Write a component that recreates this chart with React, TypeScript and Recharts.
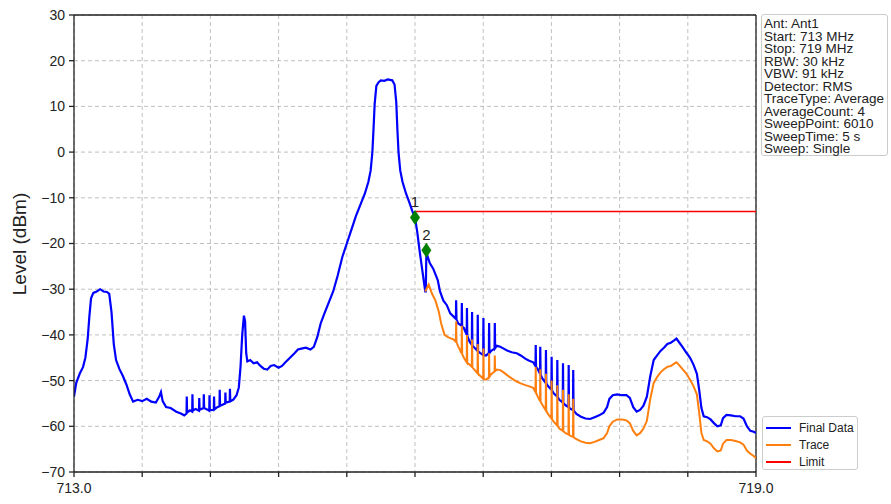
import React from 'react'
import {
  ComposedChart,
  XAxis,
  YAxis,
  CartesianGrid,
  Line,
  Scatter,
  ReferenceLine,
} from 'recharts'

// [frequency MHz, level dBm]
const finalData: [number, number][] = [
  [713.0, -53.5], [713.02, -50.5], [713.05, -48.5], [713.08, -47], [713.1, -45],
  [713.12, -41], [713.135, -36], [713.15, -32], [713.17, -30.8], [713.2, -30.5],
  [713.23, -30], [713.26, -30.5], [713.29, -30.6], [713.31, -31], [713.33, -35],
  [713.35, -42], [713.37, -45.5], [713.4, -47.5], [713.43, -49], [713.46, -50.8],
  [713.49, -53], [713.52, -54.6], [713.56, -54.2], [713.6, -54.5], [713.64, -54],
  [713.68, -54.6], [713.72, -54.8], [713.75, -53.5], [713.765, -52.5], [713.78, -54.5],
  [713.81, -55.8], [713.85, -56], [713.9, -56.8], [713.94, -57.2], [713.97, -57.6],
  [713.99, -57.2], [713.992, -53.5], [713.995, -57], [714.02, -56.5],
  [714.04, -56.8], [714.042, -53], [714.045, -56.6], [714.07, -56.2],
  [714.1, -56.6], [714.102, -53.8], [714.105, -56.4],
  [714.14, -56], [714.142, -53], [714.145, -56], [714.17, -56.3],
  [714.19, -56.6], [714.192, -53.2], [714.195, -56.5],
  [714.23, -56.4], [714.232, -53.5], [714.235, -56.3], [714.26, -55.8],
  [714.28, -55.6], [714.282, -52], [714.285, -55.5],
  [714.33, -55], [714.332, -52.6], [714.335, -54.8],
  [714.37, -54.6], [714.372, -51.8], [714.375, -54.5],
  [714.4, -54.2], [714.43, -53.2], [714.45, -51.5], [714.465, -47], [714.48, -40],
  [714.495, -35.8], [714.505, -37], [714.515, -44], [714.525, -45.8], [714.55, -45.5],
  [714.58, -46.2], [714.61, -46], [714.64, -46.8], [714.67, -47.4], [714.7, -47.6],
  [714.73, -46.8], [714.76, -46.6], [714.8, -47.2], [714.83, -46.8], [714.86, -46],
  [714.9, -45], [714.94, -44], [714.97, -43.2], [715.0, -43], [715.04, -42.8],
  [715.08, -43.2], [715.11, -42.6], [715.14, -40.5], [715.17, -37.5], [715.2, -35.5],
  [715.24, -33], [715.28, -30.5], [715.32, -27], [715.36, -23], [715.4, -20],
  [715.44, -17], [715.48, -14], [715.52, -11.5], [715.56, -9], [715.59, -6.5],
  [715.61, -4], [715.625, 0], [715.635, 5], [715.645, 10.5], [715.66, 14.5],
  [715.68, 15.3], [715.7, 15.7], [715.73, 15.6], [715.76, 15.9], [715.78, 15.8],
  [715.8, 15.7], [715.82, 14.8], [715.835, 11], [715.845, 5], [715.855, 0],
  [715.87, -4], [715.89, -6.5], [715.92, -9], [715.95, -11], [715.975, -12.8],
  [716.0, -14.3], [716.02, -17.5], [716.04, -21.5], [716.065, -26], [716.09, -30.5],
  [716.095, -30.5], [716.1, -22], [716.13, -24.3], [716.16, -25.5], [716.2, -28],
  [716.22, -30.5], [716.25, -32.5], [716.28, -33.5], [716.31, -35.3], [716.34, -36],
  [716.36, -36.5], [716.362, -32.4], [716.365, -36.6], [716.38, -37.5],
  [716.41, -38], [716.412, -33], [716.415, -38.2], [716.43, -38.5],
  [716.455, -40], [716.457, -34.1], [716.46, -40.2], [716.48, -41.5],
  [716.5, -42.2], [716.502, -35], [716.505, -42.3], [716.53, -43],
  [716.55, -43.5], [716.552, -35.6], [716.555, -43.6], [716.575, -44],
  [716.6, -44.4], [716.602, -36.3], [716.605, -44.4], [716.625, -44.5],
  [716.65, -44], [716.652, -37.4], [716.655, -44], [716.67, -43.5],
  [716.7, -43], [716.702, -37.4], [716.705, -42.9], [716.72, -42.4],
  [716.75, -42.6], [716.78, -43], [716.81, -43.4], [716.85, -43.8], [716.895, -44],
  [716.93, -44.5], [716.97, -45.2], [717.0, -45.6], [717.04, -46],
  [717.06, -46.8], [717.062, -42.2], [717.065, -47], [717.08, -47.5],
  [717.1, -48.5], [717.102, -42.6], [717.105, -48.7], [717.12, -49.5],
  [717.15, -50.5], [717.152, -43.3], [717.155, -50.6], [717.17, -51.2],
  [717.2, -52], [717.202, -44.8], [717.205, -52.1], [717.22, -52.8],
  [717.25, -53.5], [717.252, -45.5], [717.255, -53.6], [717.27, -54.2],
  [717.3, -54.8], [717.302, -46.2], [717.305, -54.9], [717.325, -55.4],
  [717.35, -55.8], [717.352, -46.6], [717.355, -55.9], [717.37, -56.2],
  [717.39, -56.4], [717.392, -47.7], [717.395, -56.5],
  [717.42, -57.3], [717.46, -57.9], [717.5, -58.3], [717.54, -58.4], [717.58, -58],
  [717.62, -57.6], [717.66, -57], [717.69, -55.8], [717.71, -54], [717.74, -53.2],
  [717.78, -53], [717.82, -53.2], [717.86, -53.2], [717.89, -53.8], [717.92, -55.8],
  [717.95, -56.8], [717.98, -56.4], [718.01, -55.5], [718.04, -53.5], [718.07, -49],
  [718.1, -45.5], [718.13, -44.5], [718.16, -43.5], [718.19, -42.8], [718.22, -42],
  [718.25, -41.7], [718.28, -41.2], [718.3, -40.8], [718.32, -41.5], [718.35, -42.5],
  [718.385, -43.8], [718.42, -45], [718.45, -46.5], [718.48, -48.5], [718.5, -52],
  [718.52, -56], [718.54, -57.8], [718.57, -58], [718.6, -58.5], [718.63, -59.3],
  [718.66, -60], [718.69, -59.8], [718.71, -58.2], [718.74, -57.5], [718.78, -57.6],
  [718.82, -57.8], [718.86, -57.8], [718.89, -58.3], [718.92, -60], [718.95, -61],
  [718.98, -61.2], [719.0, -61.5],
]

const traceData: [number, number][] = [
  [716.09, -30.5], [716.12, -29], [716.15, -31], [716.18, -32.5], [716.21, -35],
  [716.23, -37.5], [716.26, -40], [716.29, -40.5], [716.32, -40.8], [716.34, -41],
  [716.36, -41.5], [716.362, -37], [716.365, -41.6], [716.38, -42.5],
  [716.41, -44], [716.412, -38], [716.415, -44.2], [716.43, -45],
  [716.455, -46], [716.457, -40], [716.46, -46.1], [716.48, -46.5],
  [716.5, -47], [716.502, -41], [716.505, -47.1], [716.53, -47.8],
  [716.55, -48.4], [716.552, -42], [716.555, -48.5], [716.575, -49],
  [716.6, -49.6], [716.602, -43], [716.605, -49.6], [716.625, -49.8],
  [716.65, -49.3], [716.652, -44], [716.655, -49.2], [716.67, -48.6],
  [716.7, -48], [716.702, -44.5], [716.705, -47.9], [716.72, -47.6],
  [716.75, -47.7], [716.78, -48.2], [716.81, -48.8], [716.85, -49.5], [716.895, -50.2],
  [716.93, -50.6], [716.97, -51], [717.0, -51.2], [717.04, -51.6],
  [717.06, -52.5], [717.062, -47], [717.065, -52.7], [717.08, -53.5],
  [717.1, -54.5], [717.102, -47.5], [717.105, -54.6], [717.12, -55.3],
  [717.15, -56.5], [717.152, -48.5], [717.155, -56.6], [717.17, -57.3],
  [717.2, -58.3], [717.202, -50], [717.205, -58.4], [717.22, -59],
  [717.25, -59.8], [717.252, -51], [717.255, -59.9], [717.27, -60.5],
  [717.3, -61], [717.302, -52], [717.305, -61.1], [717.325, -61.5],
  [717.35, -61.8], [717.352, -53], [717.355, -61.9], [717.37, -62.1],
  [717.39, -62.3], [717.392, -54], [717.395, -62.4],
  [717.42, -62.8], [717.46, -63.3], [717.5, -63.6], [717.54, -63.7], [717.58, -63.4],
  [717.62, -63], [717.66, -62.6], [717.69, -61.5], [717.71, -60], [717.74, -59],
  [717.78, -58.5], [717.82, -58.5], [717.86, -58.7], [717.89, -59.3], [717.92, -61],
  [717.95, -62], [717.98, -61.5], [718.01, -60.5], [718.04, -58.8], [718.07, -54],
  [718.1, -50.5], [718.13, -49.2], [718.16, -48.2], [718.19, -47.5], [718.22, -47],
  [718.25, -46.8], [718.28, -46.3], [718.3, -46], [718.32, -46.5], [718.35, -47.4],
  [718.385, -48.4], [718.42, -49.8], [718.45, -51.2], [718.48, -53], [718.5, -57],
  [718.52, -61.5], [718.54, -63], [718.57, -63.3], [718.6, -63.8], [718.63, -64.8],
  [718.66, -65.5], [718.69, -65.3], [718.71, -63.8], [718.74, -63], [718.78, -63],
  [718.82, -63.2], [718.86, -63.5], [718.89, -64], [718.92, -65.3], [718.95, -66],
  [718.98, -66.5], [719.0, -67],
]

const limitData: [number, number][] = [
  [716.0, -13],
  [719.0, -13],
]

const markers = [
  { id: '1', f: 716.0, v: -14.3 },
  { id: '2', f: 716.1, v: -21.5 },
]

const xTicks = [713, 713.6, 714.2, 714.8, 715.4, 716, 716.6, 717.2, 717.8, 718.4, 719]
const yTicks = [-70, -60, -50, -40, -30, -20, -10, 0, 10, 20, 30]

const infoLines = [
  'Ant: Ant1',
  'Start: 713 MHz',
  'Stop: 719 MHz',
  'RBW: 30 kHz',
  'VBW: 91 kHz',
  'Detector: RMS',
  'TraceType: Average',
  'AverageCount: 4',
  'SweepPoint: 6010',
  'SweepTime: 5 s',
  'Sweep: Single',
]

const legendItems = [
  { name: 'Final Data', color: '#0000ff' },
  { name: 'Trace', color: '#ff7f0e' },
  { name: 'Limit', color: '#ff0000' },
]

const toRows = (arr: [number, number][]) => arr.map(([f, v]) => ({ f, v }))

const FONT = '"Liberation Sans", Arial, sans-serif'
const AXIS = '#222'

function MarkerShape(props: any) {
  const { cx, cy, payload } = props
  if (cx == null || cy == null) return null
  return (
    <g>
      <polygon
        points={`${cx},${cy - 7.5} ${cx + 5},${cy} ${cx},${cy + 7.5} ${cx - 5},${cy}`}
        fill="#008000"
      />
      <text
        x={cx}
        y={cy - 10}
        textAnchor="middle"
        fontSize={15}
        fontFamily={FONT}
        fill={AXIS}
      >
        {payload.id}
      </text>
    </g>
  )
}

export default function App() {
  return (
    <div style={{ position: 'absolute', left: 0, top: 0, width: 891, height: 504, background: '#fff' }}>
      <ComposedChart
        width={891}
        height={504}
        margin={{ top: 15, right: 135, bottom: 0, left: 14 }}
      >
        <CartesianGrid stroke="#b0b0b0" strokeDasharray="4 3" strokeWidth={0.8} />
        <XAxis
          type="number"
          dataKey="f"
          domain={[713, 719]}
          ticks={xTicks}
          allowDataOverflow
          height={32}
          tickSize={5}
          tickMargin={6}
          stroke={AXIS}
          strokeWidth={1.3}
          tick={{ fontSize: 14, fontFamily: FONT, fill: AXIS }}
          tickFormatter={(v: number) => (v === 713 || v === 719 ? v.toFixed(1) : '')}
          interval={0}
        />
        <YAxis
          type="number"
          dataKey="v"
          domain={[-70, 30]}
          ticks={yTicks}
          allowDataOverflow
          width={60}
          tickSize={5}
          tickMargin={4}
          stroke={AXIS}
          strokeWidth={1.3}
          tick={{ fontSize: 14, fontFamily: FONT, fill: AXIS }}
          tickFormatter={(v: number) => String(v).replace('-', '\u2212')}
          interval={0}
        />
        <ReferenceLine y={30} stroke={AXIS} strokeWidth={1.3} />
        <ReferenceLine x={719} stroke={AXIS} strokeWidth={1.3} />
        <Line
          data={toRows(finalData)}
          dataKey="v"
          name="Final Data"
          type="linear"
          stroke="#0000ff"
          strokeWidth={2.2}
          dot={false}
          isAnimationActive={false}
        />
        <Line
          data={toRows(traceData)}
          dataKey="v"
          name="Trace"
          type="linear"
          stroke="#ff7f0e"
          strokeWidth={2}
          dot={false}
          isAnimationActive={false}
        />
        <Line
          data={toRows(limitData)}
          dataKey="v"
          name="Limit"
          type="linear"
          stroke="#ff0000"
          strokeWidth={1.3}
          dot={false}
          isAnimationActive={false}
        />
        <Scatter
          data={markers}
          dataKey="v"
          shape={MarkerShape}
          isAnimationActive={false}
        />
      </ComposedChart>

      <div
        style={{
          position: 'absolute',
          left: 20,
          top: 244,
          transform: 'translate(-50%, -50%) rotate(-90deg)',
          fontFamily: FONT,
          fontSize: 19,
          color: AXIS,
          whiteSpace: 'nowrap',
        }}
      >
        Level (dBm)
      </div>

      <div
        style={{
          position: 'absolute',
          left: 761,
          top: 14,
          width: 127,
          height: 142,
          border: '1px solid #ccc',
          borderRadius: 3,
          padding: '3px 0 0 2px',
          boxSizing: 'border-box',
          fontFamily: FONT,
          fontSize: 13.5,
          lineHeight: '12.5px',
          color: AXIS,
          whiteSpace: 'nowrap',
        }}
      >
        {infoLines.map((l) => (
          <div key={l}>{l}</div>
        ))}
      </div>

      <div
        style={{
          position: 'absolute',
          left: 762,
          top: 416,
          width: 96,
          height: 54,
          border: '1px solid #ccc',
          borderRadius: 3,
          boxSizing: 'border-box',
          padding: '2px 0 0 3px',
          fontFamily: FONT,
          fontSize: 12,
          color: AXIS,
        }}
      >
        {legendItems.map((it) => (
          <div key={it.name} style={{ display: 'flex', alignItems: 'center', height: 17 }}>
            <span
              style={{
                display: 'inline-block',
                width: 25,
                height: 2,
                background: it.color,
                marginRight: 8,
              }}
            />
            <span>{it.name}</span>
          </div>
        ))}
      </div>
    </div>
  )
}
